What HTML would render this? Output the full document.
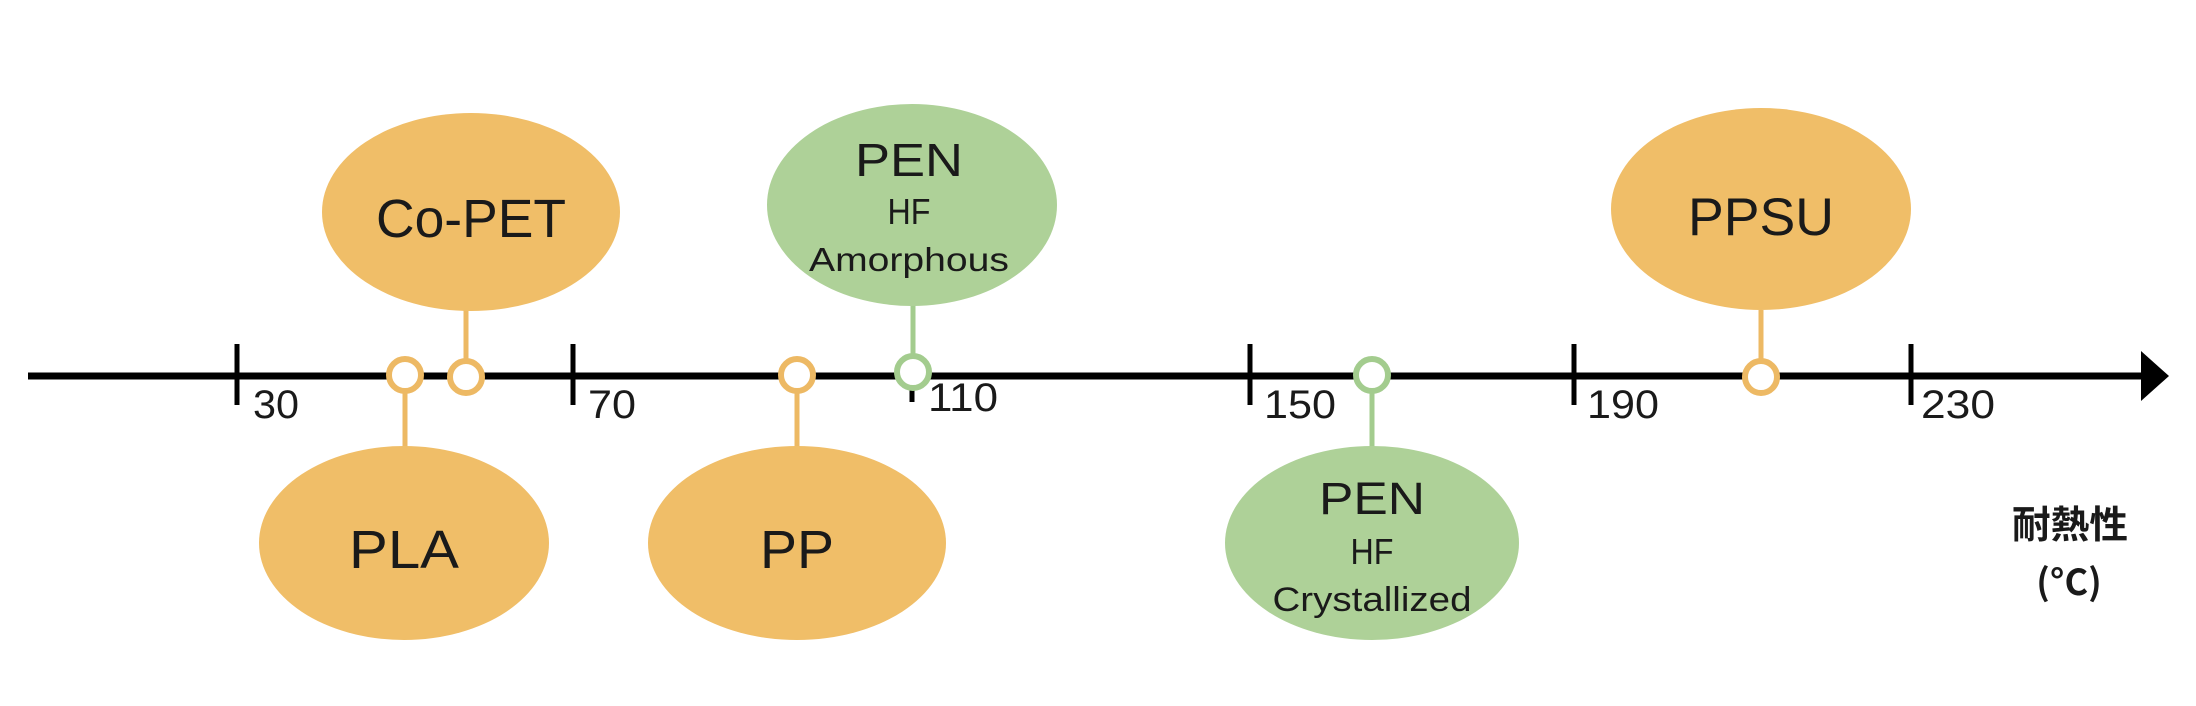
<!DOCTYPE html>
<html><head><meta charset="utf-8"><style>
html,body{margin:0;padding:0;background:#fff;}
svg{display:block;}
text{font-family:"Liberation Sans",Arial,sans-serif;fill:#1a1a1a;}
</style></head><body>
<svg width="2196" height="706" viewBox="0 0 2196 706" xmlns="http://www.w3.org/2000/svg">
<g stroke="#EDB964" stroke-width="5">
<line x1="466" y1="310" x2="466" y2="360"/>
<line x1="405" y1="392" x2="405" y2="448"/>
<line x1="797" y1="392" x2="797" y2="448"/>
<line x1="1761" y1="310" x2="1761" y2="360"/>
</g>
<g stroke="#A3CC8E" stroke-width="5">
<line x1="913" y1="305" x2="913" y2="358"/>
<line x1="1372" y1="392" x2="1372" y2="448"/>
</g>
<g fill="#F0BE68">
<ellipse cx="471" cy="212" rx="149" ry="99"/>
<ellipse cx="404" cy="543" rx="145" ry="97"/>
<ellipse cx="797" cy="543" rx="149" ry="97"/>
<ellipse cx="1761" cy="209" rx="150" ry="101"/>
</g>
<g fill="#AED198">
<ellipse cx="912" cy="205" rx="145" ry="101"/>
<ellipse cx="1372" cy="543" rx="147" ry="97"/>
</g>
<line x1="28" y1="376" x2="2145" y2="376" stroke="#000" stroke-width="7"/>
<polygon points="2141,351 2169,376 2141,401" fill="#000"/>
<g stroke="#000" stroke-width="5">
<line x1="237" y1="344" x2="237" y2="405"/>
<line x1="573" y1="344" x2="573" y2="405"/>
<line x1="1250" y1="344" x2="1250" y2="405"/>
<line x1="1574" y1="344" x2="1574" y2="405"/>
<line x1="1911" y1="344" x2="1911" y2="405"/>
<line x1="912" y1="388" x2="912" y2="402"/>
</g>
<g fill="#fff" stroke="#EDB964" stroke-width="6">
<circle cx="405" cy="375" r="16"/>
<circle cx="466" cy="377" r="16"/>
<circle cx="797" cy="375" r="16"/>
<circle cx="1761" cy="377" r="16"/>
</g>
<g fill="#fff" stroke="#A3CC8E" stroke-width="6">
<circle cx="913" cy="372" r="16"/>
<circle cx="1372" cy="375" r="16"/>
</g>
<g font-size="40">
<text x="253" y="418" textLength="46" lengthAdjust="spacingAndGlyphs">30</text>
<text x="588" y="418" textLength="48" lengthAdjust="spacingAndGlyphs">70</text>
<text x="928" y="411" textLength="70" lengthAdjust="spacingAndGlyphs">110</text>
<text x="1264" y="418" textLength="72" lengthAdjust="spacingAndGlyphs">150</text>
<text x="1587" y="418" textLength="72" lengthAdjust="spacingAndGlyphs">190</text>
<text x="1921" y="418" textLength="74" lengthAdjust="spacingAndGlyphs">230</text>
</g>
<g text-anchor="middle">
<text x="471" y="237" font-size="54" textLength="190" lengthAdjust="spacingAndGlyphs">Co-PET</text>
<text x="404" y="568" font-size="54" textLength="110" lengthAdjust="spacingAndGlyphs">PLA</text>
<text x="797" y="568" font-size="54" textLength="74" lengthAdjust="spacingAndGlyphs">PP</text>
<text x="1761" y="235" font-size="53" textLength="146" lengthAdjust="spacingAndGlyphs">PPSU</text>
<text x="909" y="176" font-size="46" textLength="108" lengthAdjust="spacingAndGlyphs">PEN</text>
<text x="909" y="224" font-size="36" textLength="43" lengthAdjust="spacingAndGlyphs">HF</text>
<text x="909" y="271" font-size="33" textLength="200" lengthAdjust="spacingAndGlyphs">Amorphous</text>
<text x="1372" y="514" font-size="45" textLength="106" lengthAdjust="spacingAndGlyphs">PEN</text>
<text x="1372" y="564" font-size="36" textLength="43" lengthAdjust="spacingAndGlyphs">HF</text>
<text x="1372" y="611" font-size="34" textLength="199" lengthAdjust="spacingAndGlyphs">Crystallized</text>
</g>
<text x="2070" y="538" font-size="38" font-weight="bold" text-anchor="middle" style="font-family:'Noto Sans CJK JP','Liberation Sans',sans-serif" textLength="116" lengthAdjust="spacingAndGlyphs">耐熱性</text>
<text x="2069" y="595" font-size="36" font-weight="bold" text-anchor="middle" style="font-family:'Noto Sans CJK JP','Liberation Sans',sans-serif">(°C)</text>
</svg>
</body></html>
